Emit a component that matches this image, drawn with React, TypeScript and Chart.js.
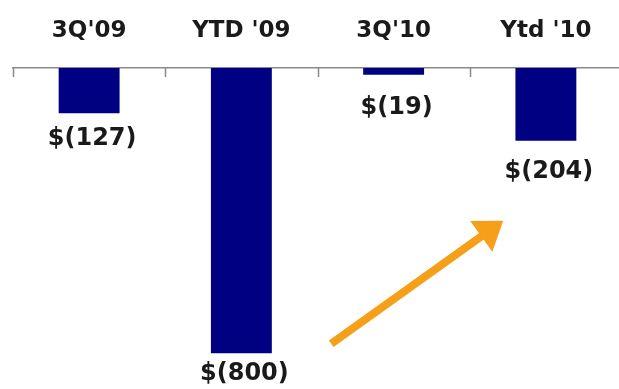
import React, { useEffect, useRef } from "react";
import { Chart, registerables } from "chart.js";

Chart.register(...registerables);

const categories = ["3Q'09", "YTD '09", "3Q'10", "Ytd '10"];
const values = [-127, -800, -19, -204];
// arrow annotation in data coordinates: [categoryIndex, value]
const arrowFrom = [1.59, -773];
const arrowTo = [2.72, -428];

const FONT = "'DejaVu Sans', sans-serif";

const valueLabelPlugin = {
  id: "valueLabels",
  afterDatasetsDraw(chart: any, _args: any, opts: any) {
    const ctx = chart.ctx;
    const meta = chart.getDatasetMeta(0);
    ctx.save();
    ctx.font = `bold 24px ${FONT}`;
    ctx.fillStyle = "#1a1a1a";
    ctx.textAlign = "center";
    ctx.textBaseline = "middle";
    meta.data.forEach((bar: any, i: number) => {
      const v = values[i];
      const txt = v < 0 ? `$(${Math.abs(v)})` : `$${v}`;
      ctx.fillText(txt, bar.x + opts.dx, bar.y + opts.offsets[i]);
    });
    ctx.restore();
  },
};

const tickMarksPlugin = {
  id: "tickMarks",
  afterDraw(chart: any) {
    const x = chart.scales.x;
    const ctx = chart.ctx;
    const n = categories.length;
    const w = (x.right - x.left) / n;
    ctx.save();
    ctx.strokeStyle = "#8a8a8a";
    ctx.lineWidth = 1.5;
    for (let i = 0; i <= n; i++) {
      const px = Math.round(x.left + i * w) + 0.5;
      ctx.beginPath();
      ctx.moveTo(px, x.bottom);
      ctx.lineTo(px, x.bottom + 9);
      ctx.stroke();
    }
    ctx.restore();
  },
};

const arrowPlugin = {
  id: "arrow",
  afterDraw(chart: any) {
    const xs = chart.scales.x;
    const ys = chart.scales.y;
    const x0 = xs.getPixelForValue(arrowFrom[0]);
    const y0 = ys.getPixelForValue(arrowFrom[1]);
    const x1 = xs.getPixelForValue(arrowTo[0]);
    const y1 = ys.getPixelForValue(arrowTo[1]);
    const dx = x1 - x0;
    const dy = y1 - y0;
    const len = Math.hypot(dx, dy);
    const ux = dx / len;
    const uy = dy / len;
    const headLen = 27;
    const headHalf = 19;
    const bx = x1 - ux * headLen;
    const by = y1 - uy * headLen;
    const ctx = chart.ctx;
    ctx.save();
    ctx.strokeStyle = "#F6A01A";
    ctx.fillStyle = "#F6A01A";
    ctx.lineWidth = 8;
    ctx.lineCap = "butt";
    ctx.beginPath();
    ctx.moveTo(x0, y0);
    ctx.lineTo(bx + ux * 2, by + uy * 2);
    ctx.stroke();
    ctx.beginPath();
    ctx.moveTo(x1, y1);
    ctx.lineTo(bx - uy * headHalf, by + ux * headHalf);
    ctx.lineTo(bx + uy * headHalf, by - ux * headHalf);
    ctx.closePath();
    ctx.fill();
    ctx.restore();
  },
};

export default function App() {
  const ref = useRef<HTMLCanvasElement | null>(null);

  useEffect(() => {
    if (!ref.current) return;
    const chart = new Chart(ref.current, {
      type: "bar",
      data: {
        labels: categories,
        datasets: [
          {
            data: values,
            backgroundColor: "#000082",
            borderWidth: 0,
            barPercentage: 0.4,
            categoryPercentage: 1,
          },
        ],
      },
      options: {
        responsive: false,
        animation: false,
        layout: { padding: { left: 13, right: 3, top: 0, bottom: 0 } },
        plugins: {
          legend: { display: false },
          tooltip: { enabled: false },
          valueLabels: { offsets: [25, 20, 33, 31], dx: 3 },
        } as any,
        scales: {
          x: {
            position: "top",
            grid: { display: false },
            border: { display: true, color: "#8a8a8a", width: 1.5 },
            ticks: {
              color: "#1a1a1a",
              font: { family: FONT, weight: "bold", size: 23 },
              padding: 15,
              maxRotation: 0,
            },
            afterFit: (axis: any) => {
              axis.height = 68;
            },
          },
          y: {
            display: false,
            min: -900,
            max: 0,
          },
        },
      },
      plugins: [valueLabelPlugin, tickMarksPlugin, arrowPlugin],
    });
    return () => chart.destroy();
  }, []);

  return (
    <div
      style={{
        position: "fixed",
        left: 0,
        top: 0,
        width: 619,
        height: 389,
        overflow: "hidden",
        background: "#ffffff",
      }}
    >
      <canvas ref={ref} width={625} height={389} style={{ display: "block" }} />
    </div>
  );
}
